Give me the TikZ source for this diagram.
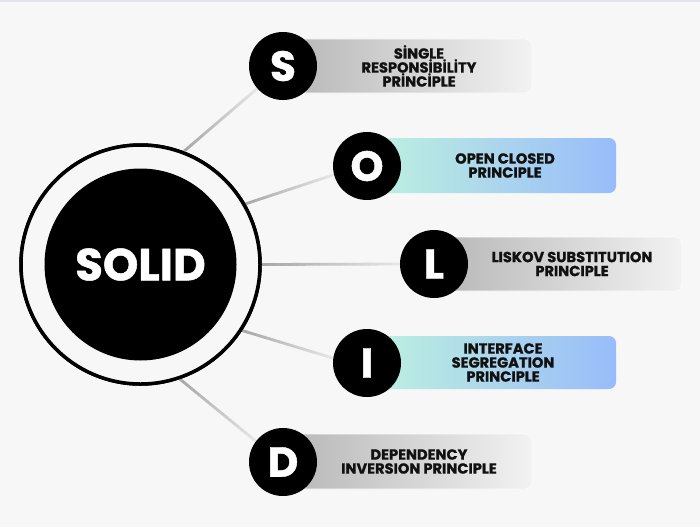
\documentclass[tikz,border=0pt]{standalone}
\usepackage{fontspec}
\setmainfont{Poppins}
\newfontfamily\heavy{Poppins}[BoldFeatures={FakeBold=1.1}]
\usetikzlibrary{calc}
\definecolor{bg}{HTML}{F7F7F7}
\definecolor{topc}{HTML}{E4E4EA}
\definecolor{lineg}{HTML}{A8A8A8}
\definecolor{grayL}{HTML}{B6B6B6}
\definecolor{grayR}{HTML}{F2F2F2}
\definecolor{mintL}{HTML}{BFF2DE}
\definecolor{blueR}{HTML}{98BCFA}
\definecolor{txt}{HTML}{111111}
\newcommand\gradconn[2]{%
  \foreach \k in {0,...,19}{%
    \pgfmathsetmacro\ka{\k/20}%
    \pgfmathsetmacro\kb{(\k+1.1)/20}%
    \pgfmathsetmacro\mixv{100-\k*4.2}%
    \draw[conn, draw=lineg!\mixv!bg] ($(#1)!\ka!(#2)$) -- ($(#1)!\kb!(#2)$);
  }}
\begin{document}
\begin{tikzpicture}[x=1pt,y=-1pt,
  conn/.style={line width=2.8pt, line cap=butt},
  letter/.style={circle, fill=black, text=white, minimum size=68pt, inner sep=0pt,
    font=\fontsize{42}{42}\selectfont\heavy\bfseries},
  lbl/.style={align=center, text=txt, inner sep=0pt,
    font=\fontsize{14.6}{14}\selectfont\heavy\bfseries},
  graybar/.style={left color=grayL, right color=grayR, rounded corners=7pt, draw=white!70!grayR, line width=0.8pt},
  bluebar/.style={left color=mintL, right color=blueR, rounded corners=7pt}]
\useasboundingbox (0,0) rectangle (700,527);
\fill[bg] (0,0) rectangle (700,527);
\fill[topc] (0,0) rectangle (700,2);

% central ring (for anchors)
\node[circle, draw=black, fill=bg, line width=3.5pt, minimum size=239pt, inner sep=0pt] (ring) at (140.5,264.5) {};

% connector end points
\coordinate (eS) at (259,87);
\coordinate (eO) at (336,174);
\coordinate (eL) at (405,264);
\coordinate (eI) at (336,359);
\coordinate (eD) at (258,443);

\gradconn{ring.69.6}{eS}
\gradconn{ring.30.9}{eO}
\gradconn{ring.0}{eL}
\gradconn{ring.-33}{eI}
\gradconn{ring.-71.1}{eD}

% redraw ring on top
\node[circle, draw=black, fill=bg, line width=3.5pt, minimum size=239pt, inner sep=0pt] (ring2) at (140.5,264.5) {};
\node[circle, fill=black, minimum size=192pt, inner sep=0pt, text=white,
  font=\fontsize{45}{45}\selectfont\heavy\bfseries] (solid) at (140.5,264.5) {SOLID};

% bars
\shade[graybar] (283,39) rectangle (532,93);
\shade[bluebar] (367,138) rectangle (616,193);
\shade[graybar] (434,237) rectangle (682,291);
\shade[bluebar] (367,336) rectangle (616,389);
\shade[graybar] (283,434) rectangle (532,489);

% letter circles
\node[letter] (S) at (283,66) {S};
\node[letter] (O) at (367,166) {O};
\node[letter] (L) at (434,264) {L};
\node[letter] (I) at (367,363) {I};
\node[letter] (D) at (283,462) {D};

% labels
\node[lbl] (tS) at (419,66) {SİNGLE\\RESPONSİBİLİTY\\PRİNCİPLE};
\node[lbl] (tO) at (505,165.5) {OPEN CLOSED\\PRINCIPLE};
\node[lbl] (tL) at (572,264) {LISKOV SUBSTITUTION\\PRINCIPLE};
\node[lbl] (tI) at (503,362.5) {INTERFACE\\SEGREGATION\\PRINCIPLE};
\node[lbl] (tD) at (419,461.5) {DEPENDENCY\\INVERSION PRINCIPLE};
\end{tikzpicture}
\end{document}
